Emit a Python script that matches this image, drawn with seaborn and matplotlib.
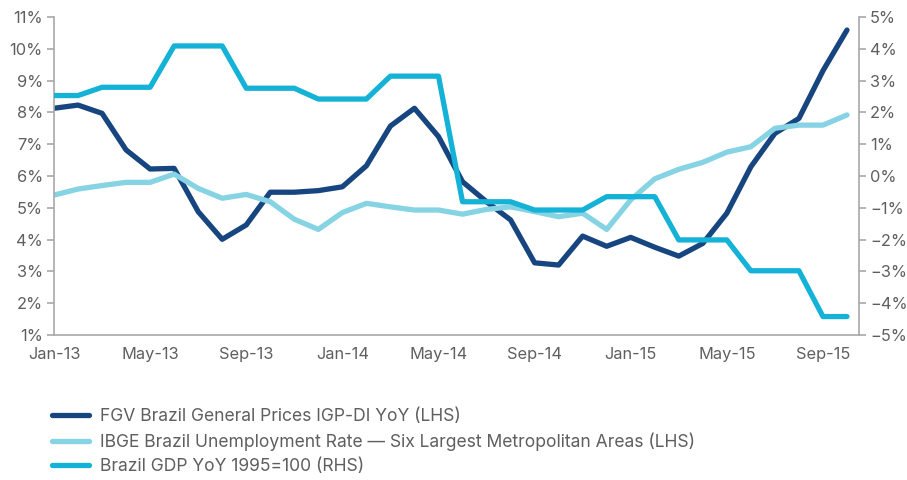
import matplotlib
matplotlib.use("Agg")
import matplotlib.pyplot as plt
import seaborn as sns
import pandas as pd
import numpy as np

months = ["Jan-13","Feb-13","Mar-13","Apr-13","May-13","Jun-13","Jul-13","Aug-13","Sep-13","Oct-13","Nov-13","Dec-13",
          "Jan-14","Feb-14","Mar-14","Apr-14","May-14","Jun-14","Jul-14","Aug-14","Sep-14","Oct-14","Nov-14","Dec-14",
          "Jan-15","Feb-15","Mar-15","Apr-15","May-15","Jun-15","Jul-15","Aug-15","Sep-15","Oct-15"]

igp_di = [8.13, 8.23, 7.97, 6.82, 6.22, 6.24, 4.88, 4.01, 4.46, 5.49, 5.49, 5.54,
          5.66, 6.32, 7.57, 8.13, 7.24, 5.82, 5.19, 4.62, 3.27, 3.20, 4.11, 3.79,
          4.07, 3.76, 3.48, 3.88, 4.83, 6.29, 7.34, 7.81, 9.31, 10.59]

unemployment = [5.40, 5.59, 5.70, 5.80, 5.80, 6.06, 5.61, 5.30, 5.42, 5.19, 4.64, 4.32,
                4.85, 5.14, 5.03, 4.93, 4.93, 4.80, 4.95, 5.03, 4.88, 4.72, 4.83, 4.32,
                5.25, 5.91, 6.21, 6.43, 6.75, 6.92, 7.50, 7.60, 7.60, 7.92]

gdp = [2.53, 2.53, 2.79, 2.79, 2.79, 4.09, 4.09, 4.09, 2.76, 2.76, 2.76, 2.42,
       2.42, 2.42, 3.14, 3.14, 3.14, -0.81, -0.81, -0.81, -1.07, -1.07, -1.07, -0.65,
       -0.65, -0.65, -2.01, -2.01, -2.01, -2.98, -2.98, -2.98, -4.42, -4.42]

label_igp = "FGV Brazil General Prices IGP-DI YoY (LHS)"
label_unemp = "IBGE Brazil Unemployment Rate \u2014 Six Largest Metropolitan Areas (LHS)"
label_gdp = "Brazil GDP YoY 1995=100 (RHS)"

c_dark = "#17457f"
c_light = "#86d3e3"
c_mid = "#14b2d6"
grey = "#5f5f5f"
spine_c = "#a8a8a8"

sns.set_theme(style="white")
plt.rcParams['font.family'] = ['Inter', 'DejaVu Sans']

df = pd.DataFrame({"idx": np.arange(len(months)), "igp": igp_di, "unemp": unemployment, "gdp": gdp})

fig = plt.figure(figsize=(9.07, 4.80), dpi=100)
ax = fig.add_axes([54/907, 1-335/480, (859-54)/907, (335-17)/480])
ax2 = ax.twinx()

lw = 3.8
sns.lineplot(data=df, x="idx", y="igp", ax=ax, color=c_dark, lw=lw, label=label_igp, legend=False,
             solid_capstyle="round", solid_joinstyle="round")
sns.lineplot(data=df, x="idx", y="unemp", ax=ax, color=c_light, lw=lw, label=label_unemp, legend=False,
             solid_capstyle="round", solid_joinstyle="round")
sns.lineplot(data=df, x="idx", y="gdp", ax=ax2, color=c_mid, lw=lw, label=label_gdp, legend=False,
             solid_capstyle="round", solid_joinstyle="round")

ax.set_xlim(0, 33.5)
ax.set_ylim(1, 11)
ax2.set_ylim(-5, 5)
ax.set_yticks(np.arange(1, 12))
ax.set_yticklabels([f"{v}%" for v in range(1, 12)])
ax2.set_yticks(np.arange(-5, 6))
ax2.set_yticklabels([f"{v}%".replace("-", "\u2212") for v in range(-5, 6)])
xt = list(range(0, len(months), 4))
ax.set_xticks(xt)
ax.set_xticklabels([months[i] for i in xt])
ax.set_xlabel("")
ax.set_ylabel("")
ax2.set_ylabel("")

for a in (ax, ax2):
    for s in a.spines.values():
        s.set_color(spine_c)
        s.set_linewidth(1.2)
    a.spines["top"].set_visible(False)
    a.tick_params(colors=grey, labelsize=11.8, length=5, width=1.2, color=spine_c, direction="out")
    a.grid(False)
ax.spines["right"].set_visible(False)
ax2.spines["left"].set_visible(False)
ax2.spines["bottom"].set_visible(False)
ax.tick_params(axis="y", pad=3)
ax2.tick_params(axis="y", pad=3)

handles = ax.get_lines()[:2] + ax2.get_lines()[:1]
leg = fig.legend(handles, [label_igp, label_unemp, label_gdp], loc="upper left",
                 bbox_to_anchor=(0.0495, 0.165), frameon=False, fontsize=12.6,
                 handlelength=2.1, handletextpad=0.65, labelspacing=0.42, borderaxespad=0)
for t in leg.get_texts():
    t.set_color(grey)

fig.savefig("out.png", dpi=100)
